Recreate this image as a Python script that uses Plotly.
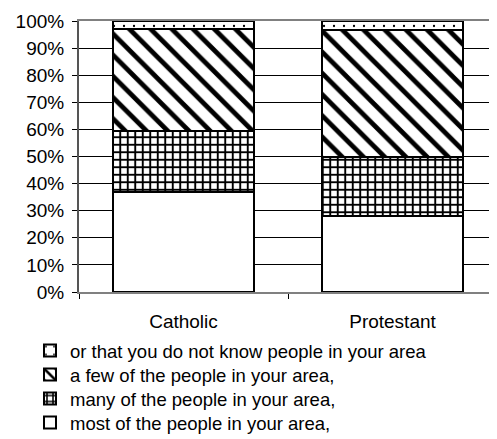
import plotly.graph_objects as go

# survey shares
groups = ['Catholic', 'Protestant']
most_people = [0.37, 0.28]
many_people = [0.225, 0.22]
few_people = [0.375, 0.467]
dont_know = [0.03, 0.033]

series = [
    ('most of the people in your area,', most_people, ''),
    ('many of the people in your area,', many_people, '+'),
    ('a few of the people in your area,', few_people, '\\'),
    ('or that you do not know people in your area', dont_know, '.'),
]
pattern_look = {
    '': dict(size=8, solidity=0.3),
    '+': dict(size=7.5, solidity=0.45),
    '\\': dict(size=15, solidity=0.32),
    '.': dict(size=10, solidity=0.04),
}

# the page body adds an 8px margin, so the figure is drawn 8px smaller
W, H = 489, 431
# one legend per row so the rows sit as close as in the original
legend_ids = ['legend', 'legend2', 'legend3', 'legend4']
row_y = [415, 391, 367, 343]

fig = go.Figure()
for (name, vals, shape), lid in zip(series, legend_ids):
    fig.add_trace(go.Bar(
        x=groups, y=vals, name=name, legend=lid,
        marker=dict(
            color='white',
            line=dict(color='black', width=2),
            pattern=dict(shape=shape, fgcolor='black', bgcolor='white',
                         fillmode='replace', **pattern_look[shape]),
        ),
    ))

legends = {}
for lid, ry in zip(legend_ids, row_y):
    legends[lid] = dict(
        xref='container', yref='container',
        x=22 / W, y=1 - ry / H, xanchor='left', yanchor='middle',
        font=dict(size=18.5), itemwidth=30,
        bgcolor='rgba(0,0,0,0)',
    )

fig.update_layout(
    barmode='stack',
    bargap=0.327,
    width=W, height=H,
    margin=dict(l=71, r=0, t=13, b=147, autoexpand=False),
    paper_bgcolor='white', plot_bgcolor='white',
    font=dict(family='Liberation Sans, Arial, sans-serif', size=19, color='black'),
    showlegend=True,
    **legends,
)
fig.update_yaxes(
    range=[0, 1], dtick=0.1, tickformat='.0%',
    showgrid=True, gridcolor='black', gridwidth=1,
    showline=True, linecolor='#555555', linewidth=2,
    ticks='outside', ticklen=5, tickcolor='black', tickwidth=1,
    ticklabelstandoff=4, zeroline=False,
)
fig.update_xaxes(
    showline=True, linecolor='#808080', linewidth=2, mirror=True,
    ticks='outside', tickson='boundaries', ticklen=5, tickcolor='black',
    ticklabelstandoff=11, showgrid=False,
)

fig.write_html('out.html')
